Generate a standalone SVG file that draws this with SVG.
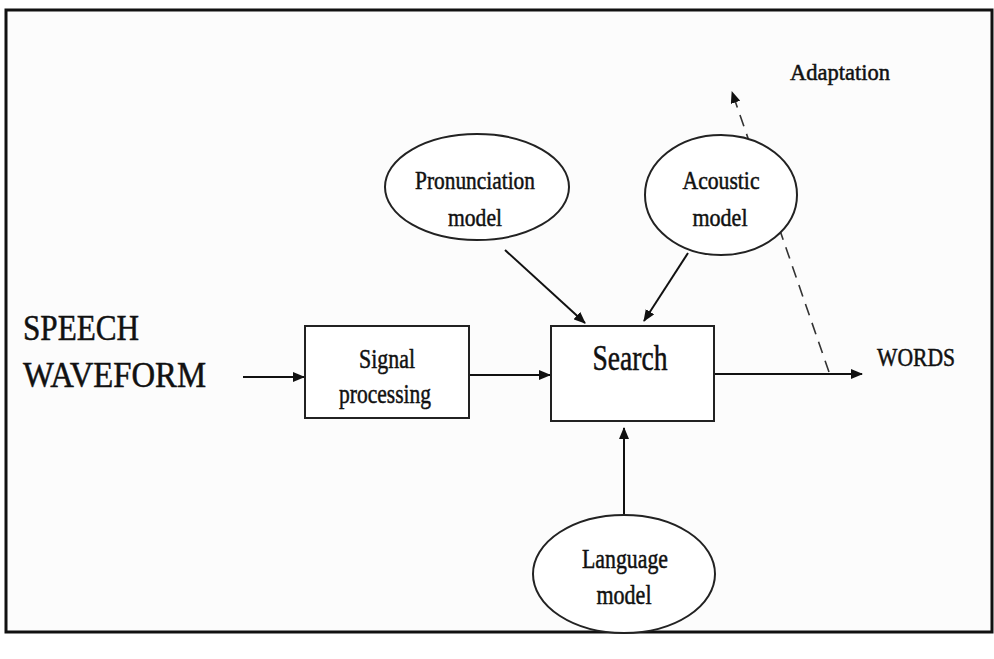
<svg xmlns="http://www.w3.org/2000/svg" width="994" height="659" viewBox="0 0 994 659">
<style>
.t{font-family:"Liberation Serif","Times New Roman",serif;fill:#111;stroke:#111;stroke-width:0.5;text-anchor:middle}
.s{text-anchor:start}
.n{fill:#fff;stroke:#222;stroke-width:2}
.c{stroke:#111;stroke-width:2;fill:none}
</style>
<defs>
<marker id="ah" markerWidth="12" markerHeight="10" refX="11" refY="5" orient="auto" markerUnits="userSpaceOnUse">
<path d="M0,0 L12,5 L0,10 z" fill="#111"/>
</marker>
</defs>
<rect x="0" y="0" width="994" height="659" fill="#fff"/>
<rect x="6" y="10" width="986" height="622" fill="#fcfcfc" stroke="#111" stroke-width="3"/>
<g id="connectors">
<line class="c" x1="243" y1="377" x2="304" y2="377" marker-end="url(#ah)"/>
<line class="c" x1="469" y1="375" x2="550" y2="375" marker-end="url(#ah)"/>
<line class="c" x1="714" y1="374" x2="862" y2="374" marker-end="url(#ah)"/>
<line class="c" x1="505" y1="250" x2="585" y2="323" marker-end="url(#ah)"/>
<line class="c" x1="688" y1="253" x2="644" y2="321" marker-end="url(#ah)"/>
<line class="c" x1="624" y1="514" x2="624" y2="428" marker-end="url(#ah)"/>
<line x1="829" y1="372" x2="732" y2="92" stroke="#333" stroke-width="1.6" stroke-dasharray="12,8" marker-end="url(#ah)"/>
</g>
<g id="speech">
<text class="t s" x="23" y="340" font-size="35" textLength="116" lengthAdjust="spacingAndGlyphs">SPEECH</text>
<text class="t s" x="23" y="387" font-size="35" textLength="183" lengthAdjust="spacingAndGlyphs">WAVEFORM</text>
</g>
<g id="signal">
<rect class="n" x="305" y="326" width="164" height="92"/>
<text class="t" x="387" y="368" font-size="28" textLength="56" lengthAdjust="spacingAndGlyphs">Signal</text>
<text class="t" x="385" y="403" font-size="28" textLength="92" lengthAdjust="spacingAndGlyphs">processing</text>
</g>
<g id="search">
<rect class="n" x="551" y="326" width="163" height="95"/>
<text class="t" x="630" y="370" font-size="35" textLength="75" lengthAdjust="spacingAndGlyphs">Search</text>
</g>
<g id="pronunciation">
<ellipse class="n" cx="477" cy="187" rx="92" ry="53"/>
<text class="t" x="475" y="189" font-size="26" textLength="120" lengthAdjust="spacingAndGlyphs">Pronunciation</text>
<text class="t" x="475" y="226" font-size="26" textLength="54" lengthAdjust="spacingAndGlyphs">model</text>
</g>
<g id="acoustic">
<ellipse class="n" cx="721" cy="195" rx="76" ry="60"/>
<text class="t" x="721" y="189" font-size="26" textLength="77" lengthAdjust="spacingAndGlyphs">Acoustic</text>
<text class="t" x="720" y="226" font-size="26" textLength="55" lengthAdjust="spacingAndGlyphs">model</text>
</g>
<g id="language">
<ellipse class="n" cx="624" cy="574" rx="91" ry="59"/>
<text class="t" x="625" y="568" font-size="27" textLength="86" lengthAdjust="spacingAndGlyphs">Language</text>
<text class="t" x="624" y="604" font-size="27" textLength="55" lengthAdjust="spacingAndGlyphs">model</text>
</g>
<g id="adaptation">
<text class="t" x="840" y="80" font-size="23" textLength="100" lengthAdjust="spacingAndGlyphs">Adaptation</text>
</g>
<g id="words">
<text class="t" x="916" y="366" font-size="25" textLength="78" lengthAdjust="spacingAndGlyphs">WORDS</text>
</g>
</svg>
